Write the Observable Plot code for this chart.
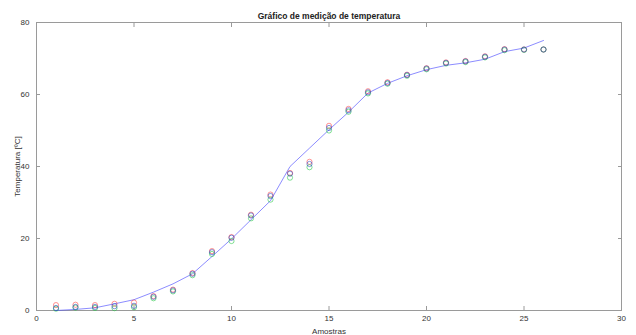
<!DOCTYPE html>
<html>
<head>
<meta charset="utf-8">
<script src="https://cdn.jsdelivr.net/npm/d3@7"></script>
<script src="https://cdn.jsdelivr.net/npm/@observablehq/plot@0.6"></script>
<style>
  body { margin: 0; background: #fff; }
  svg { font-family: "Liberation Sans", Arial, sans-serif; }
</style>
</head>
<body>
<div id="chart"></div>
<script>
const amostras = d3.range(1, 27);
const serieVermelha = [1.5,1.6,1.5,1.85,2.2,4.0,5.8,10.4,16.5,20.4,26.6,32.2,38.2,41.3,51.3,56.0,60.9,63.4,65.5,67.3,68.9,69.3,70.6,72.6,72.5,72.5];
const serieVerde    = [0.5,0.8,0.7,0.65,0.9,3.4,5.3,9.8,15.7,19.3,25.6,30.8,36.9,39.8,50.0,55.2,60.3,63.0,65.2,67.0,68.6,69.0,70.3,72.3,72.4,72.5];
const serieAzul     = [0.7,1.0,1.0,1.2,1.3,3.8,5.6,10.2,16.2,20.2,26.4,31.8,38.0,40.7,50.7,55.6,60.6,63.2,65.4,67.2,68.8,69.2,70.5,72.5,72.5,72.5];
const linhaModelo   = [0,0.3,0.75,1.85,3.0,5.1,7.4,10.2,15.0,19.9,25.2,30.5,40.0,45.1,50.2,55.1,60.4,63.1,65.2,66.9,68.1,68.8,69.8,71.9,72.9,75.0];
const xTicks = [0, 5, 10, 15, 20, 25, 30];
const yTicks = [0, 20, 40, 60, 80];

const series = [
  {nome: "r", cor: "#ff4040", valores: serieVermelha},
  {nome: "g", cor: "#20c840", valores: serieVerde},
  {nome: "b", cor: "#2040c0", valores: serieAzul}
];
const pontos = series.flatMap(s => s.valores.map((v, i) => ({x: amostras[i], y: v, cor: s.cor})));
const linha = amostras.map((a, i) => ({x: a, y: linhaModelo[i]}));

const axisColor = "#9a9a9a";
const textColor = "#333";

const chart = Plot.plot({
  width: 636,
  height: 335,
  marginLeft: 36,
  marginRight: 15,
  marginTop: 22,
  marginBottom: 25,
  style: {fontSize: "8px", fontFamily: "Liberation Sans, Arial, sans-serif", color: textColor},
  x: {domain: [0, 30]},
  y: {domain: [0, 80]},
  marks: [
    Plot.frame({stroke: axisColor}),
    Plot.axisX(xTicks, {anchor: "bottom", tickSize: -4, tickFormat: () => "", stroke: axisColor, label: null}),
    Plot.axisX(xTicks, {anchor: "top", tickSize: -4, tickFormat: () => "", stroke: axisColor, label: null}),
    Plot.axisY(yTicks, {anchor: "left", tickSize: -4, tickFormat: () => "", stroke: axisColor, label: null}),
    Plot.axisY(yTicks, {anchor: "right", tickSize: -4, tickFormat: () => "", stroke: axisColor, label: null}),
    Plot.axisX(xTicks, {anchor: "bottom", tickSize: 0, tickPadding: 5, fill: textColor,
      label: "Amostras", labelAnchor: "center", labelArrow: "none", labelOffset: 23}),
    Plot.axisY(yTicks, {anchor: "left", tickSize: 0, tickPadding: 7, fill: textColor,
      label: "Temperatura [ºC]", labelAnchor: "center", labelArrow: "none", labelOffset: 22}),
    Plot.line(linha, {x: "x", y: "y", stroke: "#5555ff", strokeWidth: 0.8, strokeOpacity: 0.85}),
    Plot.dot(pontos, {x: "x", y: "y", r: 2.6, stroke: "cor", strokeWidth: 0.8, strokeOpacity: 0.7, fill: "none"}),
    Plot.text(["Gráfico de medição de temperatura"], {frameAnchor: "top", dy: -10, fontWeight: "bold", fontSize: 8.5, fill: "#222"})
  ]
});
document.getElementById("chart").appendChild(chart);
</script>
</body>
</html>
